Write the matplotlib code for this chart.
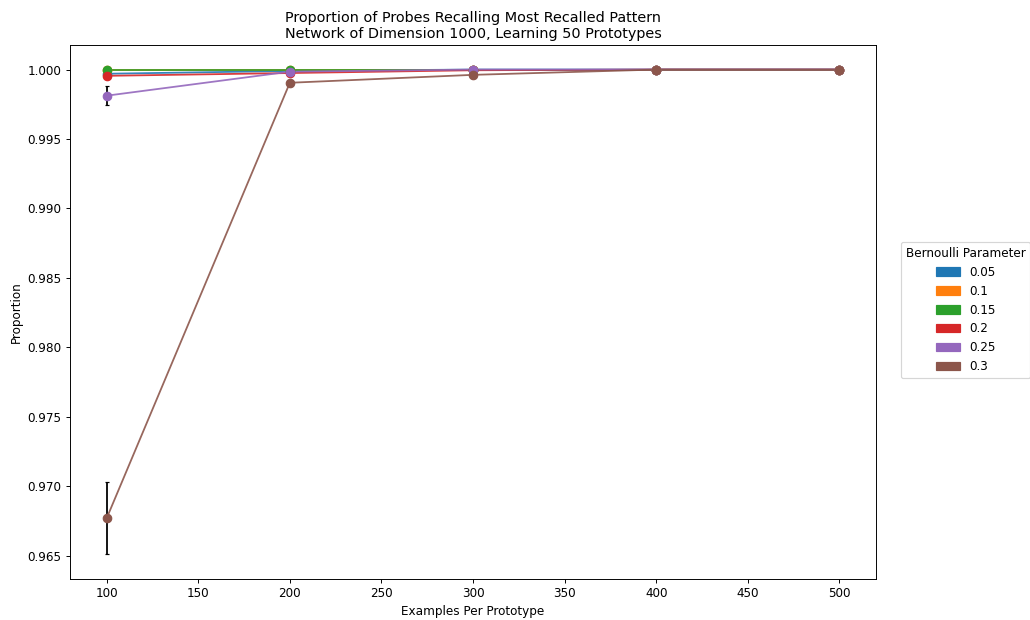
import matplotlib
matplotlib.use("Agg")
import matplotlib.pyplot as plt
import matplotlib.patches as mpatches
import numpy as np

examples = [100, 200, 300, 400, 500]
params = ["0.05", "0.1", "0.15", "0.2", "0.25", "0.3"]
colors = ["#1f77b4", "#ff7f0e", "#2ca02c", "#d62728", "#9467bd", "#8c564b"]

means = {
    "0.05": [0.99970, 0.99990, 1.0, 1.0, 1.0],
    "0.1":  [1.0, 1.0, 1.0, 1.0, 1.0],
    "0.15": [1.0, 1.0, 1.0, 1.0, 1.0],
    "0.2":  [0.99955, 0.99975, 0.99995, 1.0, 1.0],
    "0.25": [0.99812, 0.99985, 1.0, 1.0, 1.0],
    "0.3":  [0.96770, 0.99905, 0.99962, 1.0, 1.0],
}
errs = {
    "0.05": [0.00005, 0.0, 0.0, 0.0, 0.0],
    "0.1":  [0.0, 0.0, 0.0, 0.0, 0.0],
    "0.15": [0.0, 0.0, 0.0, 0.0, 0.0],
    "0.2":  [0.0001, 0.00005, 0.0, 0.0, 0.0],
    "0.25": [0.00068, 0.00005, 0.0, 0.0, 0.0],
    "0.3":  [0.0026, 0.00022, 0.00025, 0.0, 0.0],
}

DPI = 86
fig = plt.figure(figsize=(1030 / DPI, 620 / DPI), dpi=DPI)
ax = fig.add_axes([0.068, 0.066, 0.7825, 0.861])

for p, c in zip(params, colors):
    ax.errorbar(examples, means[p], yerr=errs[p], fmt="none", ecolor="black",
                capsize=2, elinewidth=1.5, zorder=1)
for p, c in zip(params, colors):
    ax.plot(examples, means[p], color=c, lw=1.5, alpha=0.9, zorder=2)
    ax.scatter(examples, means[p], color=c, s=50, zorder=3)

ax.set_xlim(80, 520)
ax.set_ylim(0.96332, 1.00175)
ax.set_xticks([100, 150, 200, 250, 300, 350, 400, 450, 500])
ax.set_yticks([0.965, 0.970, 0.975, 0.980, 0.985, 0.990, 0.995, 1.000])
ax.set_xlabel("Examples Per Prototype")
ax.set_ylabel("Proportion")
ax.set_title("Proportion of Probes Recalling Most Recalled Pattern\nNetwork of Dimension 1000, Learning 50 Prototypes")

handles = [mpatches.Patch(color=c, label=p) for p, c in zip(params, colors)]
fig.legend(handles=handles, title="Bernoulli Parameter", loc="center left",
           bbox_to_anchor=(0.869, 0.5))

fig.savefig("out.png", dpi=DPI)
